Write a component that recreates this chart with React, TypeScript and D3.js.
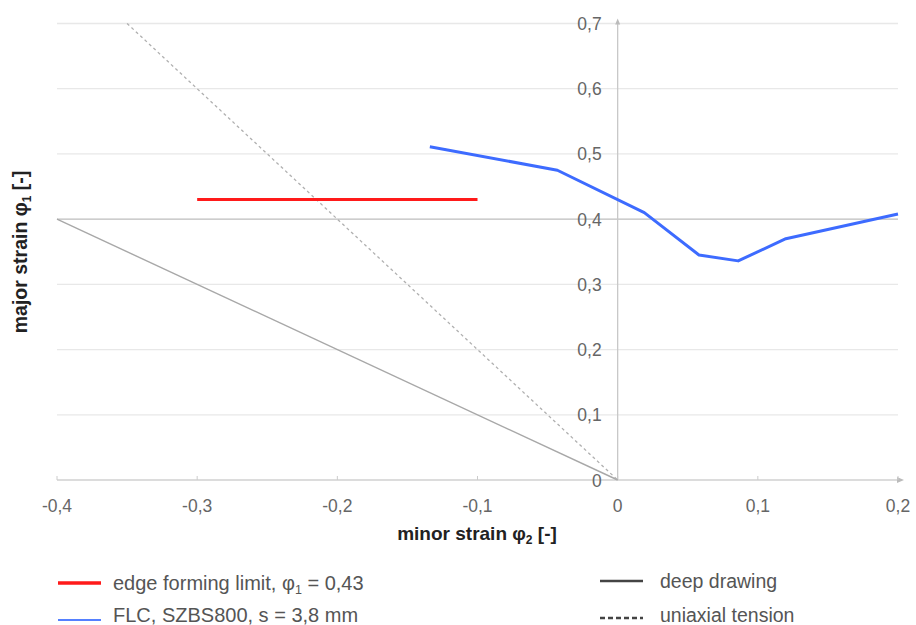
import * as d3 from 'd3';

// FLC curve (minor strain, major strain)
const flcX = [-0.134, -0.043, 0.019, 0.058, 0.086, 0.12, 0.2];
const flcY = [0.511, 0.475, 0.41, 0.345, 0.336, 0.37, 0.408];

// edge forming limit
const edgeX = [-0.3, -0.1];
const edgeY = [0.43, 0.43];

// reference strain paths
const deepX = [-0.4, 0];
const deepY = [0.4, 0];
const uniX = [-0.35, 0];
const uniY = [0.7, 0];

const xTicks = [-0.4, -0.3, -0.2, -0.1, 0, 0.1, 0.2];
const yTicks = [0, 0.1, 0.2, 0.3, 0.4, 0.5, 0.6, 0.7];

const fmt = (v: number) => (v === 0 ? '0' : d3.format('.1f')(v).replace('.', ',').replace('−', '-'));

export default function App() {
  const W = 916, H = 625;
  const x = d3.scaleLinear().domain([-0.4, 0.2]).range([57, 898]);
  const y = d3.scaleLinear().domain([0, 0.7]).range([480, 23.5]);
  const line = d3.line<[number, number]>().x(d => x(d[0])).y(d => y(d[1]));
  const pts = (xs: number[], ys: number[]) => xs.map((v, i) => [v, ys[i]] as [number, number]);
  const font = '"Liberation Sans", Arial, sans-serif';

  return (
    <svg width={W} height={H} style={{ position: 'absolute', left: 0, top: 0, fontFamily: font }}>
      <rect width={W} height={H} fill="#fff" />
      {/* gridlines */}
      {yTicks.filter(t => t > 0).map(t => (
        <line key={t} x1={x(-0.4)} x2={x(0.2)} y1={y(t)} y2={y(t)}
          stroke={t === 0.4 ? '#bdbdbd' : '#e8e8e8'} strokeWidth={1.3} />
      ))}
      {/* x axis */}
      <line x1={x(-0.4)} x2={x(0.2) + 4} y1={y(0)} y2={y(0)} stroke="#d0d0d0" strokeWidth={1.3} />
      <path d={`M${x(0.2) + 6},${y(0)} l-7,-3 l0,6 z`} fill="#bbb" />
      {xTicks.map(t => (
        <line key={t} x1={x(t)} x2={x(t)} y1={y(0)} y2={y(0) - 4} stroke="#ccc" />
      ))}
      {/* y axis */}
      <line x1={x(0)} x2={x(0)} y1={y(0)} y2={y(0.7) - 2} stroke="#c8c8c8" strokeWidth={1.3} />
      <path d={`M${x(0)},${y(0.7) - 5} l-2.5,6 l5,0 z`} fill="#bbb" />
      {/* tick labels */}
      {xTicks.map(t => (
        <text key={t} x={x(t)} y={512} textAnchor="middle" fontSize={17.5} fill="#666">{fmt(t)}</text>
      ))}
      {yTicks.map(t => (
        <text key={t} x={x(0) - 16} y={y(t) + 6.5} textAnchor="end" fontSize={17.5} fill="#666">{fmt(t)}</text>
      ))}
      {/* reference strain paths */}
      <path d={line(pts(deepX, deepY)) || ''} fill="none" stroke="#a8a8a8" strokeWidth={1.4} />
      <path d={line(pts(uniX, uniY)) || ''} fill="none" stroke="#b0b0b0" strokeWidth={1.3} strokeDasharray="3,3" />
      {/* edge forming limit */}
      <path d={line(pts(edgeX, edgeY)) || ''} fill="none" stroke="#ff1a1a" strokeWidth={3} />
      {/* FLC */}
      <path d={line(pts(flcX, flcY)) || ''} fill="none" stroke="#3d6bff" strokeWidth={3} strokeLinejoin="round" />
      {/* axis titles */}
      <text x={477} y={540} textAnchor="middle" fontSize={19} fontWeight="bold" fill="#222">
        minor strain φ<tspan fontSize={12} dy={4}>2</tspan><tspan dy={-4}> [-]</tspan>
      </text>
      <text transform="translate(27,252) rotate(-90)" textAnchor="middle" fontSize={19.5} fontWeight="bold" fill="#222">
        major strain φ<tspan fontSize={12} dy={4}>1</tspan><tspan dy={-4}> [-]</tspan>
      </text>
      {/* legend */}
      <line x1={58} x2={101} y1={583} y2={583} stroke="#ff1a1a" strokeWidth={3.5} />
      <text x={113} y={590} fontSize={20} fill="#555">
        edge forming limit, φ<tspan fontSize={12.5} dy={4}>1</tspan><tspan dy={-4}> = 0,43</tspan>
      </text>
      <line x1={58} x2={101} y1={620} y2={620} stroke="#5580ff" strokeWidth={2} />
      <text x={113} y={622} fontSize={20} fill="#555">FLC, SZBS800, s = 3,8 mm</text>
      <line x1={600} x2={643} y1={581} y2={581} stroke="#444" strokeWidth={2.5} />
      <text x={660} y={588} fontSize={19.5} fill="#555">deep drawing</text>
      <line x1={600} x2={643} y1={618} y2={618} stroke="#444" strokeWidth={2.5} strokeDasharray="5,3" />
      <text x={660} y={622} fontSize={19.5} fill="#555">uniaxial tension</text>
    </svg>
  );
}
